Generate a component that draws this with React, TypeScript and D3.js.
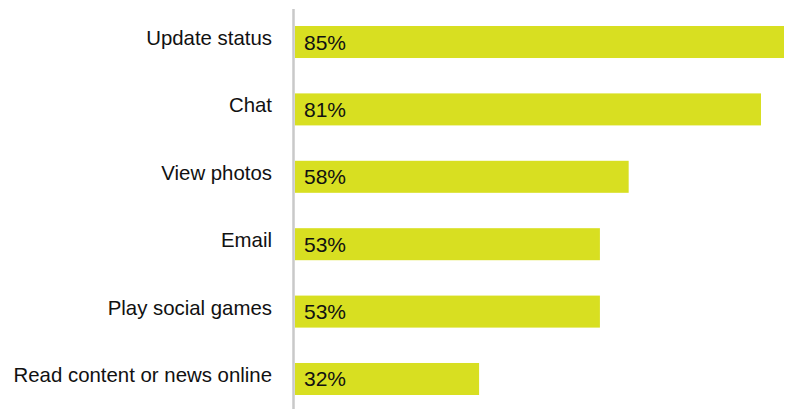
import React from "react";
import * as d3 from "d3";

const categories = [
  "Update status",
  "Chat",
  "View photos",
  "Email",
  "Play social games",
  "Read content or news online",
];
const values = [85, 81, 58, 53, 53, 32];
const valueLabels = ["85%", "81%", "58%", "53%", "53%", "32%"];

const W = 785;
const H = 409;

export default function App() {
  const x = d3.scaleLinear().domain([0, 85]).range([295, 784]);
  const y = d3
    .scaleBand<string>()
    .domain(categories)
    .range([26, 395])
    .paddingInner(0.525)
    .paddingOuter(0);
  const bw = y.bandwidth();
  const font = "'Liberation Sans', Arial, Helvetica, sans-serif";
  return (
    <svg
      width={W}
      height={H}
      style={{ position: "absolute", left: 0, top: 0, display: "block" }}
    >
      <rect width={W} height={H} fill="#ffffff" />
      {categories.map((c, i) => {
        const y0 = y(c) as number;
        return (
          <g key={c}>
            <rect
              x={x(0)}
              y={y0}
              width={x(values[i]) - x(0)}
              height={bw}
              fill="#d8df21"
            />
            <text
              x={x(0) + 9}
              y={y0 + bw / 2 + 7.5}
              fontFamily={font}
              fontSize={21}
              fill="#111"
            >
              {valueLabels[i]}
            </text>
            <text
              x={272}
              y={y0 + bw / 2 + 3}
              fontFamily={font}
              fontSize={20.4}
              fill="#111"
              textAnchor="end"
            >
              {c}
            </text>
          </g>
        );
      })}
      <line x1={293.5} x2={293.5} y1={9} y2={H} stroke="#c9c9c9" strokeWidth={2.5} />
    </svg>
  );
}
